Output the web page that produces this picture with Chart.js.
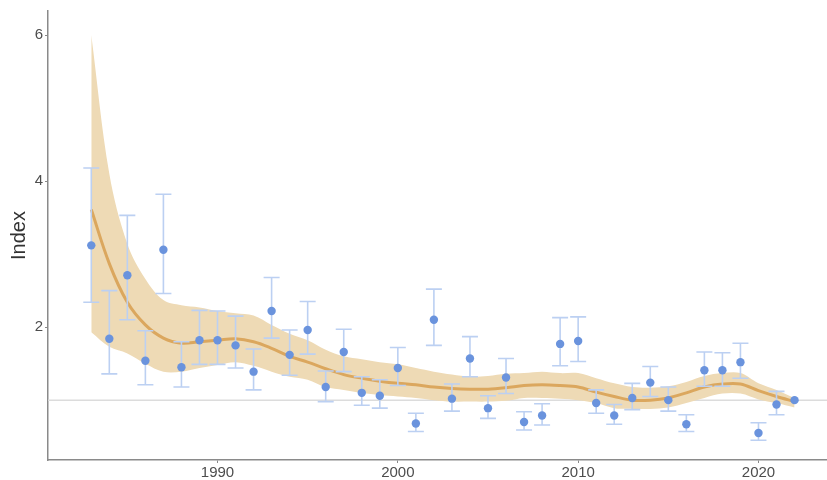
<!DOCTYPE html>
<html lang="en">
<head>
  <meta charset="UTF-8">
  <title>Index trend</title>
  <script src="https://cdn.jsdelivr.net/npm/chart.js"></script>
  <style>
    html, body { margin: 0; padding: 0; background: #fff; }
    #wrap { width: 827px; height: 480px; }
  </style>
</head>
<body>
  <div id="wrap"><canvas id="chart" width="827" height="480"></canvas></div>

  <script>
    // yearly estimates with error bars
    const years = [1983, 1984, 1985, 1986, 1987, 1988, 1989, 1990, 1991, 1992,
                   1993, 1994, 1995, 1996, 1997, 1998, 1999, 2000, 2001, 2002,
                   2003, 2004, 2005, 2006, 2007, 2008, 2009, 2010, 2011, 2012,
                   2013, 2014, 2015, 2016, 2017, 2018, 2019, 2020, 2021, 2022];
    const index = [3.12, 1.84, 2.71, 1.54, 3.06, 1.45, 1.82, 1.82, 1.75, 1.39,
                   2.22, 1.62, 1.96, 1.18, 1.66, 1.10, 1.06, 1.44, 0.68, 2.10,
                   1.02, 1.57, 0.89, 1.31, 0.70, 0.79, 1.77, 1.81, 0.96, 0.79,
                   1.03, 1.24, 1.00, 0.67, 1.41, 1.41, 1.52, 0.55, 0.94, 1.00];
    const upper = [4.18, 2.50, 3.53, 1.95, 3.82, 1.80, 2.23, 2.22, 2.15, 1.70,
                   2.68, 1.96, 2.35, 1.40, 1.97, 1.32, 1.28, 1.72, 0.82, 2.52,
                   1.22, 1.87, 1.06, 1.57, 0.84, 0.95, 2.13, 2.14, 1.14, 0.94,
                   1.23, 1.46, 1.18, 0.80, 1.66, 1.65, 1.78, 0.69, 1.12, 1.00];
    const lower = [2.34, 1.36, 2.10, 1.21, 2.46, 1.18, 1.49, 1.49, 1.44, 1.14,
                   1.85, 1.34, 1.63, 0.98, 1.39, 0.93, 0.89, 1.20, 0.57, 1.75,
                   0.85, 1.32, 0.75, 1.09, 0.59, 0.66, 1.47, 1.53, 0.82, 0.67,
                   0.87, 1.05, 0.85, 0.57, 1.19, 1.19, 1.30, 0.45, 0.80, 1.00];

    // smoothed trend and its confidence band
    const trend = [3.61, 2.87, 2.34, 2.03, 1.85, 1.78, 1.80, 1.82, 1.84, 1.80,
                   1.71, 1.60, 1.52, 1.43, 1.35, 1.30, 1.26, 1.23, 1.21, 1.18,
                   1.16, 1.15, 1.15, 1.17, 1.20, 1.21, 1.20, 1.18, 1.11, 1.05,
                   1.00, 1.00, 1.03, 1.10, 1.18, 1.22, 1.22, 1.13, 1.05, 0.98];
    const bandHigh = [6.00, 4.10, 3.14, 2.66, 2.37, 2.30, 2.27, 2.22, 2.19, 2.16,
                      2.03, 1.91, 1.82, 1.69, 1.60, 1.56, 1.52, 1.49, 1.44, 1.39,
                      1.35, 1.32, 1.33, 1.36, 1.37, 1.39, 1.37, 1.37, 1.30, 1.23,
                      1.18, 1.17, 1.19, 1.25, 1.33, 1.37, 1.37, 1.23, 1.14, 1.03];
    const bandLow = [1.93, 1.73, 1.64, 1.50, 1.39, 1.39, 1.44, 1.48, 1.52, 1.47,
                     1.39, 1.32, 1.28, 1.18, 1.14, 1.10, 1.07, 1.05, 1.03, 1.00,
                     0.98, 0.98, 0.98, 0.99, 1.03, 1.03, 1.02, 1.00, 0.96, 0.89,
                     0.88, 0.88, 0.90, 0.96, 1.03, 1.09, 1.09, 1.01, 0.96, 0.90];

    const xTicks = [1990, 2000, 2010, 2020];
    const yTicks = [2, 4, 6];
    const refValue = 1;

    const pts = arr => years.map((y, i) => ({ x: y, y: arr[i] }));

    // reference line at 1 and error bars, drawn with the chart scales
    const extras = {
      id: "extras",
      beforeDatasetsDraw(chart) {
        const { ctx, chartArea, scales } = chart;
        const py = scales.y.getPixelForValue(refValue);
        ctx.save();
        ctx.strokeStyle = "#dcdcdc";
        ctx.lineWidth = 1.5;
        ctx.beginPath();
        ctx.moveTo(chartArea.left, py);
        ctx.lineTo(chartArea.right, py);
        ctx.stroke();
        ctx.restore();
      },
      beforeDatasetDraw(chart, args) {
        if (args.index !== 3) return;
        const { ctx, scales } = chart;
        ctx.save();
        ctx.strokeStyle = "#bcd0f2";
        ctx.lineWidth = 1.6;
        years.forEach((yr, i) => {
          if (upper[i] === lower[i]) return;
          const px = scales.x.getPixelForValue(yr);
          const top = scales.y.getPixelForValue(upper[i]);
          const bot = scales.y.getPixelForValue(lower[i]);
          const half = 8;
          ctx.beginPath();
          ctx.moveTo(px, top); ctx.lineTo(px, bot);
          ctx.moveTo(px - half, top); ctx.lineTo(px + half, top);
          ctx.moveTo(px - half, bot); ctx.lineTo(px + half, bot);
          ctx.stroke();
        });
        ctx.restore();
      }
    };

    const ctx = document.getElementById("chart").getContext("2d");
    new Chart(ctx, {
      type: "scatter",
      data: {
        datasets: [
          {
            label: "band low",
            data: pts(bandLow),
            order: 4,
            showLine: true,
            borderWidth: 0,
            pointRadius: 0,
            tension: 0.35,
            fill: false
          },
          {
            label: "band high",
            data: pts(bandHigh),
            order: 3,
            showLine: true,
            borderWidth: 0,
            pointRadius: 0,
            tension: 0.35,
            backgroundColor: "#eedab5",
            fill: "-1"
          },
          {
            label: "trend",
            data: pts(trend),
            order: 2,
            showLine: true,
            borderColor: "#dba75e",
            borderWidth: 3,
            pointRadius: 0,
            tension: 0.35,
            fill: false
          },
          {
            label: "index",
            data: pts(index),
            order: 1,
            pointRadius: 4.2,
            pointBackgroundColor: "#6a93dd",
            pointBorderWidth: 0
          }
        ]
      },
      options: {
        responsive: false,
        animation: false,
        layout: { autoPadding: false, padding: { top: 10, right: 0, bottom: 0, left: 0 } },
        plugins: {
          legend: { display: false },
          tooltip: { enabled: false }
        },
        scales: {
          x: {
            type: "linear",
            min: 1980.6,
            max: 2023.8,
            afterFit: axis => { axis.height = 20; },
            afterBuildTicks: axis => { axis.ticks = xTicks.map(v => ({ value: v })); },
            grid: { drawOnChartArea: false, drawTicks: true, tickLength: 3, color: "#888" },
            border: { color: "#8a8a8a", width: 1.5 },
            ticks: {
              color: "#4d4d4d",
              font: { family: "Liberation Sans", size: 15 },
              padding: 1,
              callback: v => String(v)
            }
          },
          y: {
            min: 0.18,
            max: 6.33,
            afterFit: axis => { axis.width = 48; },
            afterBuildTicks: axis => { axis.ticks = yTicks.map(v => ({ value: v })); },
            grid: { drawOnChartArea: false, drawTicks: true, tickLength: 3, color: "#888" },
            border: { color: "#8a8a8a", width: 1.5 },
            ticks: {
              color: "#4d4d4d",
              font: { family: "Liberation Sans", size: 15 },
              padding: 2
            },
            title: {
              display: true,
              text: "Index",
              color: "#333",
              font: { family: "Liberation Sans", size: 20 },
              padding: { top: 7, bottom: 0 }
            }
          }
        }
      },
      plugins: [extras]
    });
  </script>
</body>
</html>
